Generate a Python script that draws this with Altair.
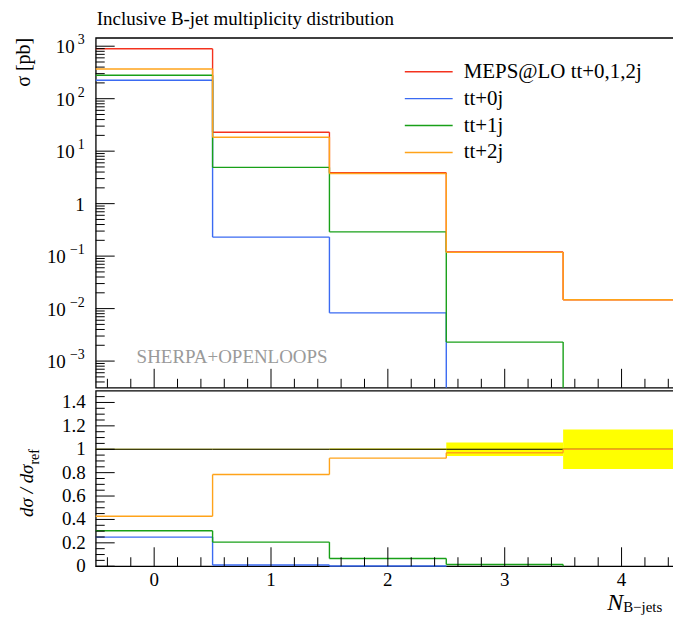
import altair as alt
import pandas as pd

# ---------------- data ----------------
EDGES = [-0.5, 0.5, 1.5, 2.5, 3.5, 4.5]
SERIES = ["MEPS@LO tt+0,1,2j", "tt+0j", "tt+1j", "tt+2j"]
COLORS = ["#f4321e", "#3a6af2", "#18a018", "#ffa31a"]

XSEC_MEPS = [893, 23.0, 3.9, 0.12, 0.0147]
XSEC_TT0 = [224, 0.23, 0.0083, 0, 0]
XSEC_TT1 = [279, 4.9, 0.29, 0.0023, 0]
XSEC_TT2 = [367, 18.4, 3.75, 0.118, 0.0147]

RATIO_TT0 = [0.249, 0.01, 0.002, 0, 0]
RATIO_TT1 = [0.303, 0.206, 0.066, 0.015, 0]
RATIO_TT2 = [0.427, 0.784, 0.924, 0.97, 1.0]
REF_ERR = [0.004, 0.004, 0.006, 0.058, 0.168]

Y_TICK_EXP = [-3, -2, -1, 0, 1, 2, 3]
X_TICK_LABELS = ["0", "1", "2", "3", "4"]
RATIO_TICK_LABELS = ["0", "0.2", "0.4", "0.6", "0.8", "1", "1.2", "1.4"]

TITLE = "Inclusive B-jet multiplicity distribution"
FONT = "Liberation Serif"

# ---------------- layout ----------------
W, H1, H2 = 586, 351, 176
Y_MIN, Y_MAX = 3.1e-4, 1.445e3
R_MIN, R_MAX = 0.0, 1.5


def step_segments(values, floor):
    rows = []
    for i, v in enumerate(values):
        if v <= 0:
            continue
        rows.append(dict(x=EDGES[i], x2=EDGES[i + 1], y=v, y2=v))
        if i + 1 < len(values):
            nxt = values[i + 1]
            rows.append(dict(x=EDGES[i + 1], x2=EDGES[i + 1], y=v,
                             y2=nxt if nxt > 0 else floor))
    return rows


top_rows = []
for name, vals in zip(SERIES, [XSEC_MEPS, XSEC_TT0, XSEC_TT1, XSEC_TT2]):
    for r in step_segments(vals, Y_MIN):
        r["series"] = name
        top_rows.append(r)
top_df = pd.DataFrame(top_rows)

ratio_rows = []
for name, vals in zip(SERIES[1:], [RATIO_TT0, RATIO_TT1, RATIO_TT2]):
    for r in step_segments(vals, R_MIN):
        r["series"] = name
        ratio_rows.append(r)
ratio_df = pd.DataFrame(ratio_rows)

ref_ratio = [v / v for v in XSEC_MEPS]
band_df = pd.DataFrame({
    "lo": EDGES[:-1], "hi": EDGES[1:],
    "r": ref_ratio,
    "rlo": [r - e for r, e in zip(ref_ratio, REF_ERR)],
    "rhi": [r + e for r, e in zip(ref_ratio, REF_ERR)],
})

decades = [10.0 ** e for e in Y_TICK_EXP]
y_minor = [k * 10.0 ** e for e in range(-4, 4) for k in range(2, 10)
           if Y_MIN <= k * 10.0 ** e <= Y_MAX]
x_major = [float(s) for s in X_TICK_LABELS]
x_minor = [round(EDGES[0] + 0.1 + 0.2 * i, 1) for i in range(25)]
x_minor = [v for v in x_minor if abs(v - round(v)) > 1e-6]
r_major = [float(s) for s in RATIO_TICK_LABELS]
r_minor = [round(0.05 * i, 2) for i in range(30) if i % 4 != 0]

xs = alt.Scale(domain=[EDGES[0], EDGES[-1]], nice=False, zero=False)
ys_top = alt.Scale(type="log", domain=[Y_MIN, Y_MAX], nice=False)
ys_bot = alt.Scale(domain=[R_MIN, R_MAX], nice=False, zero=False)
color = alt.Color("series:N", scale=alt.Scale(domain=SERIES, range=COLORS), legend=None)


def X(field):
    return alt.X(field, type="quantitative", scale=xs, axis=None)


def Yt(field):
    return alt.Y(field, type="quantitative", scale=ys_top, axis=None)


def Yb(field):
    return alt.Y(field, type="quantitative", scale=ys_bot, axis=None)


def one(text):
    return pd.DataFrame({"t": [text]})


# ---------------- top panel ----------------
lines_top = alt.Chart(top_df).mark_rule(strokeWidth=1.4).encode(
    x=X("x"), x2="x2", y=Yt("y"), y2="y2", color=color)

tick_kw = dict(color="black", strokeWidth=1)
t_ymaj = alt.Chart(pd.DataFrame({"v": decades})).mark_rule(**tick_kw).encode(
    y=Yt("v"), x=alt.value(0), x2=alt.value(19))
t_ymin = alt.Chart(pd.DataFrame({"v": y_minor})).mark_rule(**tick_kw).encode(
    y=Yt("v"), x=alt.value(0), x2=alt.value(9))
t_xmaj = alt.Chart(pd.DataFrame({"v": x_major})).mark_rule(**tick_kw).encode(
    x=X("v"), y=alt.value(H1), y2=alt.value(H1 - 19))
t_xmin = alt.Chart(pd.DataFrame({"v": x_minor})).mark_rule(**tick_kw).encode(
    x=X("v"), y=alt.value(H1), y2=alt.value(H1 - 9))

lab_df = pd.DataFrame({
    "v": decades,
    "e": Y_TICK_EXP,
    "exp": [str(e).replace("-", "\u2212") for e in Y_TICK_EXP],
})
one_df = lab_df[lab_df.e == 0].assign(t="1")
pos_df = lab_df[lab_df.e > 0].assign(t="10")
neg_df = lab_df[lab_df.e < 0].assign(t="10")
exp_df = lab_df[lab_df.e != 0]

lab_kw = dict(font=FONT, fontSize=19, align="right", baseline="middle", color="black")
l_one = alt.Chart(one_df).mark_text(**lab_kw, dy=1).encode(
    y=Yt("v"), x=alt.value(-11), text="t:N")
l_pos = alt.Chart(pos_df).mark_text(**lab_kw, dy=1).encode(
    y=Yt("v"), x=alt.value(-21), text="t:N")
l_neg = alt.Chart(neg_df).mark_text(**lab_kw, dy=1).encode(
    y=Yt("v"), x=alt.value(-30), text="t:N")
l_exp = alt.Chart(exp_df).mark_text(font=FONT, fontSize=14, align="right",
                                    baseline="middle", color="black", dy=-6).encode(
    y=Yt("v"), x=alt.value(-11), text="exp:N")

title_txt = alt.Chart(one(TITLE)).mark_text(
    font=FONT, fontSize=19, align="left", baseline="alphabetic", color="black").encode(
    x=alt.value(1), y=alt.value(-13), text="t:N")
ytitle_txt = alt.Chart(one("σ [pb]")).mark_text(
    font=FONT, fontSize=20, align="right", baseline="alphabetic", angle=270,
    color="black").encode(x=alt.value(-66), y=alt.value(0), text="t:N")
watermark = alt.Chart(one("SHERPA+OPENLOOPS")).mark_text(
    font=FONT, fontSize=19, align="left", baseline="alphabetic", color="#9a9a9a").encode(
    x=alt.value(41), y=alt.value(326), text="t:N")

leg_df = pd.DataFrame({"series": SERIES})
leg_y = alt.Y("series:N", scale=alt.Scale(type="point", domain=SERIES, range=[34, 115], padding=0),
              axis=None)
leg_rules = alt.Chart(leg_df).mark_rule(strokeWidth=1.4).encode(
    y=leg_y, x=alt.value(310), x2=alt.value(358), color=color)
leg_text = alt.Chart(leg_df).mark_text(
    font=FONT, fontSize=21, align="left", baseline="middle", color="black").encode(
    y=leg_y, x=alt.value(369), text="series:N")

main_top = alt.layer(lines_top, t_ymaj, t_ymin, t_xmaj, t_xmin,
                     l_one, l_pos, l_neg, l_exp, title_txt, ytitle_txt, watermark)
top = alt.layer(main_top, alt.layer(leg_rules, leg_text)).resolve_scale(
    y="independent").properties(width=W, height=H1)

# ---------------- ratio panel ----------------
band = alt.Chart(band_df).mark_rect(color="#ffff00").encode(
    x=X("lo"), x2="hi", y=Yb("rlo"), y2="rhi")
refline = alt.Chart(band_df).mark_rule(color="black", strokeWidth=1.2).encode(
    x=X("lo"), x2="hi", y=Yb("r"))
lines_bot = alt.Chart(ratio_df).mark_rule(strokeWidth=1.4).encode(
    x=X("x"), x2="x2", y=Yb("y"), y2="y2", color=color)

b_ymaj = alt.Chart(pd.DataFrame({"v": r_major})).mark_rule(**tick_kw).encode(
    y=Yb("v"), x=alt.value(0), x2=alt.value(19))
b_ymin = alt.Chart(pd.DataFrame({"v": r_minor})).mark_rule(**tick_kw).encode(
    y=Yb("v"), x=alt.value(0), x2=alt.value(9))
b_xmaj = alt.Chart(pd.DataFrame({"v": x_major})).mark_rule(**tick_kw).encode(
    x=X("v"), y=alt.value(H2), y2=alt.value(H2 - 19))
b_xmin = alt.Chart(pd.DataFrame({"v": x_minor})).mark_rule(**tick_kw).encode(
    x=X("v"), y=alt.value(H2), y2=alt.value(H2 - 9))

xlab = alt.Chart(pd.DataFrame({"v": x_major, "t": X_TICK_LABELS})).mark_text(
    font=FONT, fontSize=19, align="center", baseline="middle", color="black").encode(
    x=X("v"), y=alt.value(H2 + 14), text="t:N")
rlab = alt.Chart(pd.DataFrame({"v": r_major, "t": RATIO_TICK_LABELS})).mark_text(
    **lab_kw).encode(y=Yb("v"), x=alt.value(-10), text="t:N")

rtitle_main = alt.Chart(one("dσ / dσ")).mark_text(
    font=FONT, fontSize=19, fontStyle="italic", align="right", baseline="alphabetic",
    angle=270, color="black").encode(x=alt.value(-63), y=alt.value(74), text="t:N")
rtitle_sub = alt.Chart(one("ref")).mark_text(
    font=FONT, fontSize=14, align="left", baseline="alphabetic",
    angle=270, color="black").encode(x=alt.value(-57), y=alt.value(74), text="t:N")
xtitle_main = alt.Chart(one("N")).mark_text(
    font=FONT, fontSize=24, fontStyle="italic", align="right", baseline="alphabetic",
    color="black").encode(x=alt.value(529), y=alt.value(220), text="t:N")
xtitle_sub = alt.Chart(one("B\u2212jets")).mark_text(
    font=FONT, fontSize=15, align="left", baseline="alphabetic",
    color="black").encode(x=alt.value(529), y=alt.value(222), text="t:N")

bottom = alt.layer(band, refline, lines_bot, b_ymaj, b_ymin, b_xmaj, b_xmin,
                   xlab, rlab, rtitle_main, rtitle_sub, xtitle_main, xtitle_sub
                   ).properties(width=W, height=H2)

chart = alt.vconcat(top, bottom, spacing=0).properties(
    padding={"left": 5, "top": 0, "right": -9, "bottom": -2}
).configure_view(stroke="black", strokeWidth=1.3)

chart.save("out.html", embed_options={"renderer": "svg", "actions": False})
